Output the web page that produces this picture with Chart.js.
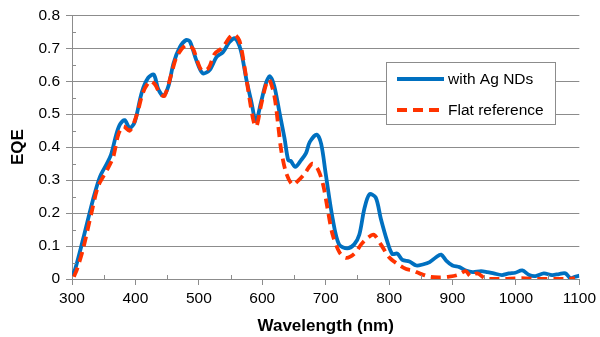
<!DOCTYPE html>
<html>
<head>
<meta charset="utf-8">
<script src="https://cdn.jsdelivr.net/npm/chart.js@4.4.0/dist/chart.umd.min.js"></script>
<style>
    html, body { margin: 0; padding: 0; background: #fff; }
    #wrap { width: 600px; height: 337px; position: relative; }
</style>
</head>
<body>
<div id="wrap"><canvas id="eqeChart" width="600" height="337"></canvas></div>
<script>
// Wavelength (nm) and EQE
const agWavelength = [300, 305, 318, 333, 344, 355, 362, 370, 376, 383, 391, 399, 410, 420, 429, 436, 444, 452, 460, 470,
    480, 486, 496, 506, 517, 528, 538, 548, 557, 566, 575, 583, 590, 598, 606, 612, 619, 627, 635, 641,
    645, 652, 661, 669, 675, 686, 693, 700, 711, 721, 734, 745, 753, 761, 769, 779, 787, 797, 805, 813,
    821, 832, 843, 853, 864, 874, 882, 890, 900, 911, 921, 932, 945, 955, 965, 978, 989, 999, 1010, 1021,
    1031, 1044, 1057, 1068, 1078, 1086, 1092, 1100];
const agEqe = [0.01, 0.03, 0.125, 0.24, 0.31, 0.35, 0.38, 0.44, 0.47, 0.482, 0.458, 0.477, 0.566, 0.61, 0.62, 0.576, 0.556, 0.585, 0.654, 0.703,
    0.725, 0.72, 0.664, 0.624, 0.634, 0.674, 0.688, 0.718, 0.73, 0.695, 0.605, 0.536, 0.478, 0.536, 0.595, 0.615, 0.585, 0.507, 0.428, 0.36,
    0.358, 0.34, 0.36, 0.382, 0.416, 0.438, 0.409, 0.32, 0.183, 0.105, 0.093, 0.105, 0.134, 0.213, 0.257, 0.247, 0.183, 0.115, 0.076, 0.077,
    0.058, 0.053, 0.041, 0.044, 0.051, 0.066, 0.074, 0.056, 0.041, 0.036, 0.026, 0.021, 0.024, 0.021, 0.017, 0.012, 0.017, 0.019, 0.026, 0.012,
    0.009, 0.017, 0.012, 0.015, 0.017, 0.002, 0.006, 0.01];

const flatWavelength = [303, 308, 318, 331, 341, 355, 365, 373, 381, 391, 402, 412, 423, 431, 439, 446, 457, 465, 478, 486,
    491, 504, 515, 525, 538, 548, 556, 564, 572, 580, 587, 591, 598, 606, 611, 619, 625, 630, 638, 648,
    658, 667, 679, 688, 696, 703, 711, 722, 732, 745, 756, 766, 776, 787, 800, 813, 827, 837, 848, 864,
    879, 895, 908, 921, 928, 939, 952, 968, 983, 999, 1015, 1031, 1046, 1062, 1083, 1093];
const flatEqe = [0.007, 0.03, 0.095, 0.203, 0.28, 0.33, 0.37, 0.438, 0.463, 0.45, 0.497, 0.566, 0.6, 0.59, 0.561, 0.556, 0.624, 0.674, 0.708, 0.705,
    0.698, 0.634, 0.639, 0.683, 0.703, 0.732, 0.742, 0.723, 0.644, 0.546, 0.473, 0.463, 0.526, 0.59, 0.605, 0.556, 0.468, 0.389, 0.32, 0.286,
    0.301, 0.32, 0.35, 0.332, 0.286, 0.213, 0.134, 0.08, 0.064, 0.076, 0.105, 0.124, 0.134, 0.105, 0.066, 0.046, 0.03, 0.026, 0.017, 0.007,
    0.005, 0.007, 0.012, 0.024, 0.009, 0.017, 0.002, 0, 0, 0.002, 0.002, 0, 0, 0, 0, 0.003];

const seriesNames = ['with Ag NDs', 'Flat reference'];
const xTickLabels = [300, 400, 500, 600, 700, 800, 900, 1000, 1100];
const yTickLabels = [0, 0.1, 0.2, 0.3, 0.4, 0.5, 0.6, 0.7, 0.8];

const BLUE = '#0070C0';
const RED = '#FF3300';
const GRID = '#8c8c8c';
const FONT = 'Liberation Sans, Arial, sans-serif';

function toPoints(xs, ys) {
    return xs.map((x, i) => ({ x: x, y: ys[i] }));
}

function isMajor(v, step) {
    return Math.abs(v / step - Math.round(v / step)) < 1e-6;
}

// Minor tick marks drawn inside the plot, like the original
const minorTicks = {
    id: 'minorTicks',
    afterDraw(chart) {
        const ctx = chart.ctx;
        const xs = chart.scales.x;
        const ys = chart.scales.y;
        const area = chart.chartArea;
        ctx.save();
        ctx.strokeStyle = GRID;
        ctx.lineWidth = 1;
        ctx.beginPath();
        for (let v = 350; v < 1100; v += 100) {
            const px = Math.round(xs.getPixelForValue(v)) + 0.5;
            ctx.moveTo(px, area.bottom);
            ctx.lineTo(px, area.bottom - 4);
        }
        for (let v = 0.05; v < 0.8; v += 0.1) {
            const py = Math.round(ys.getPixelForValue(v)) + 0.5;
            ctx.moveTo(area.left, py);
            ctx.lineTo(area.left + 4, py);
        }
        ctx.stroke();
        ctx.restore();
    }
};

// Legend box placed inside the plot area
const boxLegend = {
    id: 'boxLegend',
    afterDraw(chart) {
        const ctx = chart.ctx;
        const left = 386.5, top = 62.5, w = 169, h = 62;
        ctx.save();
        ctx.fillStyle = '#fff';
        ctx.fillRect(left, top, w, h);
        ctx.strokeStyle = GRID;
        ctx.lineWidth = 1;
        ctx.strokeRect(left, top, w, h);
        ctx.font = '15.5px ' + FONT;
        ctx.textBaseline = 'middle';
        ctx.fillStyle = '#000';
        chart.data.datasets.forEach((ds, i) => {
            const y = i === 0 ? 79 : 110;
            ctx.beginPath();
            ctx.strokeStyle = ds.borderColor;
            ctx.lineWidth = ds.borderWidth;
            ctx.setLineDash(ds.borderDash || []);
            ctx.moveTo(397, y);
            ctx.lineTo(444, y);
            ctx.stroke();
            ctx.setLineDash([]);
            ctx.fillText(ds.label, 448, y + 1);
        });
        ctx.restore();
    }
};

const ctx = document.getElementById('eqeChart').getContext('2d');
new Chart(ctx, {
    type: 'line',
    data: {
        datasets: [{
            label: seriesNames[0],
            data: toPoints(agWavelength, agEqe),
            borderColor: BLUE,
            borderWidth: 3.8,
            pointRadius: 0,
            tension: 0.3,
            fill: false,
            order: 2
        }, {
            label: seriesNames[1],
            data: toPoints(flatWavelength, flatEqe),
            borderColor: RED,
            borderWidth: 3.8,
            borderDash: [10, 6],
            pointRadius: 0,
            tension: 0.3,
            fill: false,
            order: 1
        }]
    },
    options: {
        responsive: false,
        animation: false,
        layout: { padding: { top: 7, right: 19, left: 0, bottom: 0 } },
        plugins: {
            legend: { display: false },
            tooltip: { enabled: false }
        },
        scales: {
            x: {
                type: 'linear',
                min: xTickLabels[0],
                max: xTickLabels[xTickLabels.length - 1],
                afterFit(scale) { scale.height = 58; },
                border: { color: GRID, width: 1 },
                grid: {
                    drawOnChartArea: false,
                    tickLength: 6,
                    tickColor: c => isMajor(c.tick.value, 100) ? GRID : 'transparent'
                },
                ticks: {
                    stepSize: 50,
                    autoSkip: false,
                    maxRotation: 0,
                    padding: 4,
                    color: '#000',
                    font: { family: FONT, size: 15.5 },
                    callback: v => xTickLabels.includes(v) ? String(v) : ''
                },
                title: {
                    display: true,
                    text: 'Wavelength (nm)',
                    color: '#000',
                    font: { family: FONT, size: 17, weight: 'bold' },
                    padding: { top: 2, bottom: 0 }
                }
            },
            y: {
                min: yTickLabels[0],
                max: yTickLabels[yTickLabels.length - 1],
                afterFit(scale) { scale.width = 72; },
                border: { color: GRID, width: 1 },
                grid: {
                    color: c => isMajor(c.tick.value, 0.1) ? GRID : 'transparent',
                    tickLength: 6
                },
                ticks: {
                    stepSize: 0.05,
                    autoSkip: false,
                    padding: 6,
                    color: '#000',
                    font: { family: FONT, size: 15.5 },
                    callback: v => isMajor(v, 0.1) ? String(Math.round(v * 10) / 10) : ''
                },
                title: {
                    display: true,
                    text: 'EQE',
                    color: '#000',
                    font: { family: FONT, size: 17, weight: 'bold' },
                    padding: { top: 8, bottom: 4 }
                }
            }
        }
    },
    plugins: [minorTicks, boxLegend]
});
</script>
</body>
</html>
